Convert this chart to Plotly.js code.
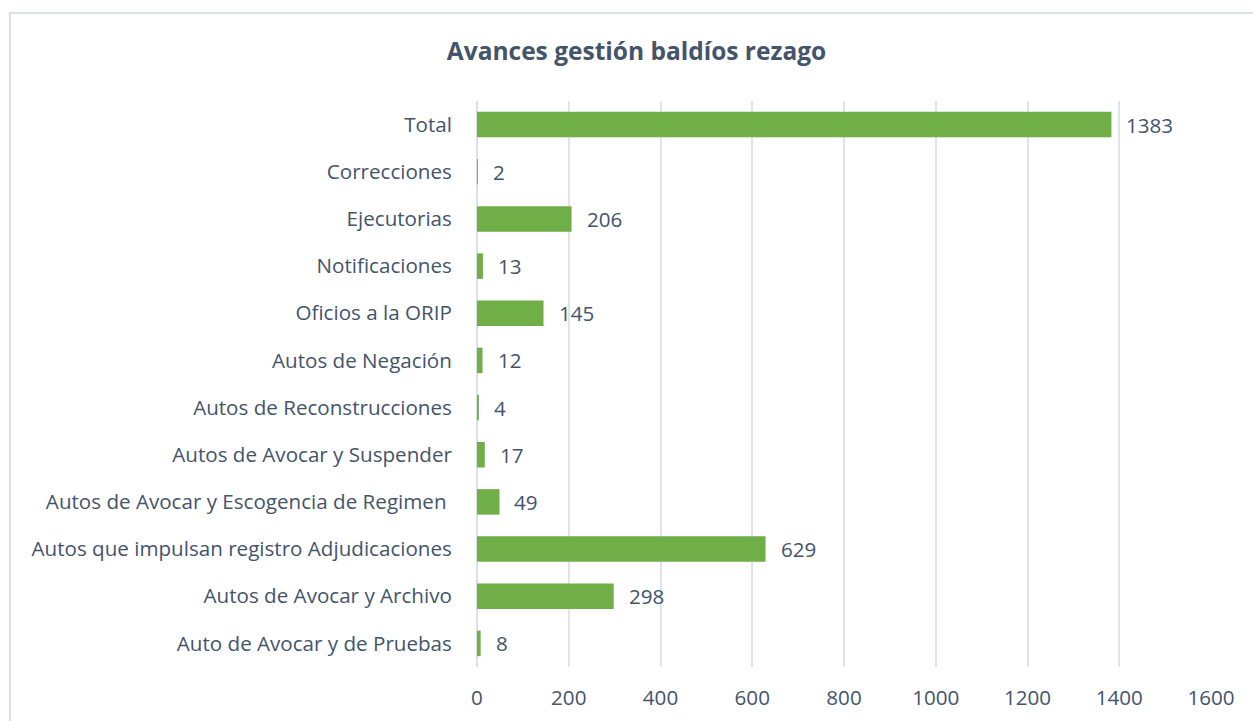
<!DOCTYPE html>
<html><head><meta charset="utf-8">
<script src="https://cdn.plot.ly/plotly-3.0.1.min.js"></script>
<style>
html,body{margin:0;padding:0;background:#fff;}
#wrap{position:relative;width:1253px;height:721px;overflow:hidden;}
#frame{position:absolute;left:9px;top:12px;width:1260px;height:720px;border:2px solid #dde1e7;box-sizing:border-box;pointer-events:none;}
#chart{position:absolute;left:0;top:0;width:1253px;height:721px;}
</style></head>
<body><div id="wrap"><div id="chart"></div><div id="frame"></div></div>
<script>
const categories = ["Auto de Avocar y de Pruebas","Autos de Avocar y Archivo","Autos que impulsan registro Adjudicaciones","Autos de Avocar y Escogencia de Regimen ","Autos de Avocar y Suspender","Autos de Reconstrucciones","Autos de Negación","Oficios a la ORIP","Notificaciones","Ejecutorias","Correcciones","Total"];
const values = [8,298,629,49,17,4,12,145,13,206,2,1383];
const xTicks = [0,200,400,600,800,1000,1200,1400,1600];

const font = "'Open Sans', 'Noto Sans', sans-serif";
const col = "#44546a";
const fs = 20.6;

const trace = {
  type: "bar", orientation: "h",
  y: categories, x: values,
  marker: {color: "#70ae47", line: {width: 0}},
  width: 0.54,
  hoverinfo: "x+y"
};

const annotations = categories.map((c, i) => ({
  x: values[i], y: c, xref: "x", yref: "y",
  text: String(values[i]), showarrow: false,
  xanchor: "left", xshift: 13,
  font: {family: font, size: fs, color: col}
}));

const layout = {
  width: 1253, height: 721,
  margin: {l: 477, r: 42, t: 101, b: 54},
  paper_bgcolor: "#fff", plot_bgcolor: "#fff",
  title: {text: "<b>Avances gestión baldíos rezago</b>", x: 0.508, xref: "container", xanchor: "center", y: 0.928, yanchor: "middle",
          font: {family: font, size: 24.5, color: col}},
  bargap: 0.46,
  showlegend: false,
  xaxis: {range: [0, 1600], tickvals: xTicks, ticktext: xTicks.map(String),
          showgrid: true, gridcolor: "#e1e4ea", gridwidth: 2, zeroline: true, zerolinecolor: "#dde1e7", zerolinewidth: 2,
          showline: false, ticks: "outside", ticklen: 12, tickcolor: "rgba(0,0,0,0)",
          tickfont: {family: font, size: fs, color: col}, fixedrange: true},
  yaxis: {type: "category", categoryorder: "array", categoryarray: categories,
          showgrid: false, zeroline: false, showline: false,
          ticks: "outside", ticklen: 20, tickcolor: "rgba(0,0,0,0)",
          tickfont: {family: font, size: fs, color: col}, fixedrange: true},
  annotations: annotations
};

Plotly.newPlot("chart", [trace], layout, {displayModeBar: false, staticPlot: true});
</script></body></html>
